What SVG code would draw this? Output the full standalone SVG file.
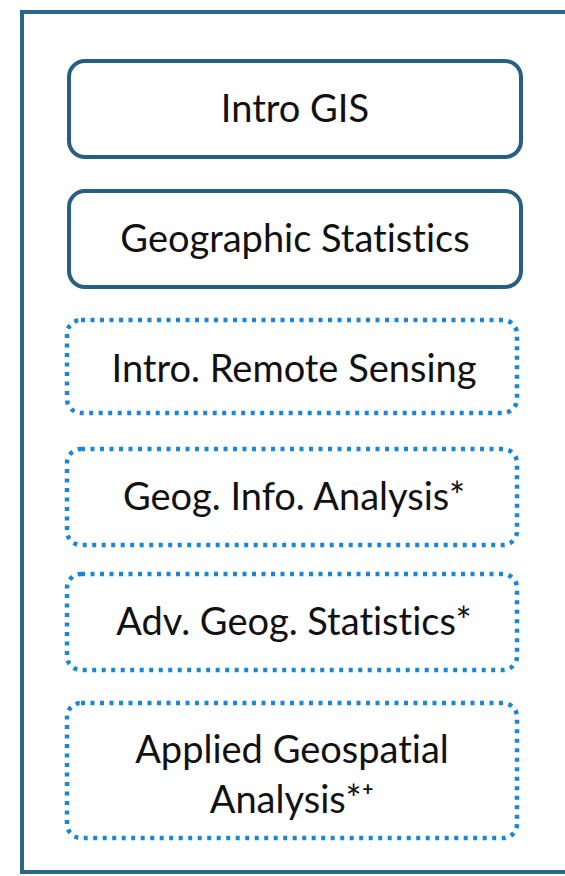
<svg xmlns="http://www.w3.org/2000/svg" width="565" height="876" viewBox="0 0 565 876">
<style>
.frame{fill:#fff;stroke:#2b6587;stroke-width:4}
.solid{fill:#fff;stroke:#275f82;stroke-width:4}
.dot{fill:#fff;stroke:#1a87d4;stroke-width:4.5;stroke-dasharray:4 5.5}
text{font-family:Lato,"Open Sans","Liberation Sans",sans-serif;font-size:38px;fill:#111;text-anchor:middle;font-variant-ligatures:none}
</style>
<rect width="565" height="876" fill="#fff"/>
<rect class="frame" x="22" y="12" width="545" height="860"/>
<g id="n1"><rect class="solid" x="69" y="61" width="452" height="96" rx="16"/><text x="295" y="122">Intro GIS</text></g>
<g id="n2"><rect class="solid" x="69" y="191" width="452" height="96" rx="16"/><text x="295" y="252">Geographic Statistics</text></g>
<g id="n3"><rect class="dot" x="67" y="320" width="450" height="93" rx="14"/><text x="294" y="382">Intro. Remote Sensing</text></g>
<g id="n4"><rect class="dot" x="67" y="449" width="450" height="96" rx="14"/><text x="294" y="510">Geog. Info. Analysis*</text></g>
<g id="n5"><rect class="dot" x="67" y="574" width="450" height="96" rx="14"/><text x="294" y="635">Adv. Geog. Statistics*</text></g>
<g id="n6"><rect class="dot" x="67" y="703" width="450" height="135" rx="14"/><text x="292" y="763">Applied Geospatial</text><text x="292" y="813">Analysis*⁺</text></g>
<g id="connectors"/>
</svg>
